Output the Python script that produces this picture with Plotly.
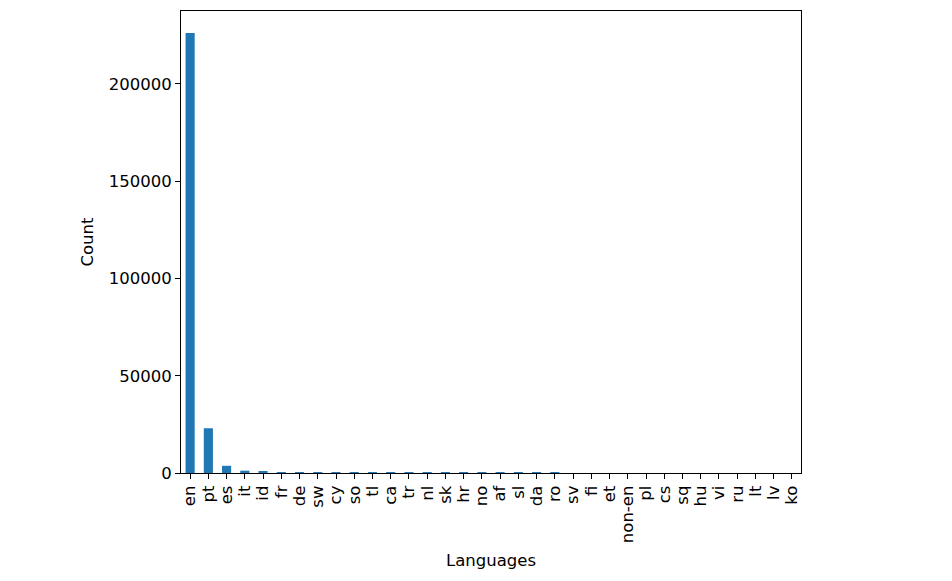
import plotly.graph_objects as go

languages = ["en", "pt", "es", "it", "id", "fr", "de", "sw", "cy", "so", "tl", "ca",
             "tr", "nl", "sk", "hr", "no", "af", "sl", "da", "ro", "sv", "fi", "et",
             "non-en", "pl", "cs", "sq", "hu", "vi", "ru", "lt", "lv", "ko"]
counts = [226200, 23000, 3700, 1200, 600, 500, 450, 420, 400, 380, 360, 340,
          320, 300, 290, 280, 270, 260, 250, 240, 230, 2, 2, 2,
          1, 1, 1, 1, 1, 1, 1, 1, 1, 1]

font = dict(family="DejaVu Sans", size=16.5, color="black")

fig = go.Figure(go.Bar(x=languages, y=counts, marker=dict(color="#1f77b4", line=dict(width=0))))

fig.update_layout(
    width=936, height=565,
    margin=dict(l=173, r=143, t=3, b=100),
    plot_bgcolor="white", paper_bgcolor="white",
    font=font,
    bargap=0.5,
    showlegend=False,
)
fig.update_xaxes(
    type="category", range=[-0.5, 33.5], tickangle=-90,
    tickmode="array", tickvals=languages, ticktext=languages,
    showline=True, linecolor="black", linewidth=1, mirror=True,
    ticks="outside", ticklen=5, tickcolor="black", showgrid=False,
    title=dict(text="Languages", font=font, standoff=12), automargin=False,
)
fig.update_yaxes(
    range=[0, 237500], tickvals=[0, 50000, 100000, 150000, 200000],
    ticktext=["0", "50000", "100000", "150000", "200000"],
    showline=True, linecolor="black", linewidth=1, mirror=True,
    ticks="outside", ticklen=5, tickcolor="black", showgrid=False, zeroline=False,
    title=dict(text="Count", font=font, standoff=10), automargin=False,
)

fig.write_html("out.html")
